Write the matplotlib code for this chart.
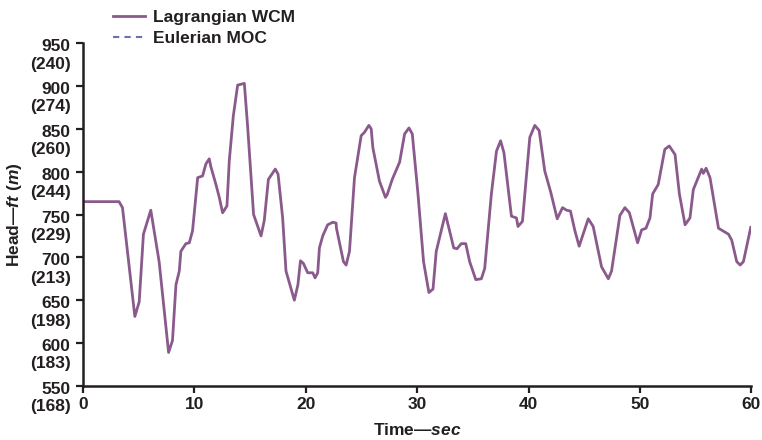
import matplotlib
matplotlib.use("Agg")
import matplotlib.pyplot as plt
import matplotlib.transforms as mtransforms
from matplotlib.lines import Line2D

plt.rcParams['font.family'] = ['Liberation Sans', 'DejaVu Sans']
plt.rcParams['font.weight'] = 'bold'
plt.rcParams['axes.labelweight'] = 'bold'
plt.rcParams['mathtext.fontset'] = 'custom'
plt.rcParams['mathtext.it'] = 'Liberation Sans:italic:bold'
plt.rcParams['mathtext.rm'] = 'Liberation Sans:bold'

# time (sec) and head (ft)
time_s = [0, 3.23, 3.54, 4.65, 5.04, 5.42, 6.08, 6.83, 7.68, 8.03, 8.34, 8.64, 8.78,
          9.23, 9.54, 9.83, 10.29, 10.73, 11.03, 11.33, 11.47, 11.93, 12.23, 12.53,
          12.92, 13.13, 13.49, 13.88, 14.48, 14.78, 15.31, 15.98, 16.27, 16.64, 17.26,
          17.51, 17.92, 18.22, 18.97, 19.29, 19.52, 19.78, 20.17, 20.62, 20.83, 21.07,
          21.22, 21.52, 21.96, 22.43, 22.72, 22.75, 23.38, 23.62, 23.92, 24.37, 24.97,
          25.27, 25.66, 25.87, 26.02, 26.61, 27.15, 27.30, 27.76, 28.42, 28.87, 29.26,
          29.56, 30.07, 30.57, 31.05, 31.42, 31.71, 32.53, 33.28, 33.57, 33.96, 34.36,
          34.71, 35.26, 35.76, 36.06, 36.66, 37.12, 37.49, 37.79, 38.46, 38.91, 39.05,
          39.45, 40.11, 40.56, 40.95, 41.45, 41.99, 42.57, 43.05, 43.41, 43.76, 44.16,
          44.54, 45.36, 45.80, 46.55, 47.16, 47.45, 48.20, 48.65, 49.05, 49.79, 50.15,
          50.54, 50.90, 51.14, 51.64, 52.23, 52.63, 53.15, 53.54, 54.05, 54.49, 54.79,
          55.54, 55.69, 55.94, 56.29, 57.05, 57.95, 58.24, 58.69, 59.00, 59.29, 59.95]
head_ft = [765, 765, 758, 631, 648, 727, 755, 695, 589, 603, 668, 684, 707,
           716, 717, 731, 793, 795, 809, 815, 806, 785, 770, 752,
           760, 813, 865, 901, 903, 852, 750, 725, 743, 791, 803,
           797, 746, 684, 650, 668, 696, 693, 682, 682, 676, 682,
           711, 725, 738, 741, 740, 734, 695, 691, 707, 793, 842,
           846, 854, 850, 828, 789, 770, 773, 791, 811, 844, 851,
           844, 774, 695, 659, 663, 707, 751, 711, 710, 716, 716,
           695, 674, 675, 687, 774, 824, 836, 822, 748, 746, 736,
           742, 840, 854, 848, 801, 776, 745, 758, 755, 754, 731,
           713, 745, 736, 689, 675, 684, 749, 758, 752, 717, 732,
           734, 746, 774, 785, 826, 830, 820, 774, 738, 746, 779,
           803, 798, 804, 793, 734, 727, 720, 695, 691, 695, 735]

y_ticks = [550, 600, 650, 700, 750, 800, 850, 900, 950]
y_metric = [168, 183, 198, 213, 229, 244, 260, 274, 240]
x_ticks = [0, 10, 20, 30, 40, 50, 60]

ink = '#231f20'
purple = '#8a5a8c'
blue = '#6b70b3'

fig = plt.figure(figsize=(7.62, 4.40), dpi=100)
ax = fig.add_axes([0.109, 0.123, 0.877, 0.779])

ax.plot(time_s, head_ft, color=purple, lw=2.0, solid_joinstyle='round')

ax.set_xlim(0, 60)
ax.set_ylim(550, 950)
ax.set_xticks(x_ticks)
ax.set_yticks(y_ticks)
for s in ['top', 'right']:
    ax.spines[s].set_visible(False)
for s in ['left', 'bottom']:
    ax.spines[s].set_linewidth(1.8)
    ax.spines[s].set_color(ink)
ax.tick_params(direction='out', length=5, width=1.6, colors=ink,
               labelsize=12.5, pad=3)
ax.tick_params(axis='y', pad=4)

ax.set_yticklabels([f'{a}\n({b})' for a, b in zip(y_ticks, y_metric)],
                   linespacing=1.2)
# first line of each label sits on its tick
shift = mtransforms.ScaledTranslation(0, -9.5 / 100, fig.dpi_scale_trans)
for lab in ax.get_yticklabels():
    lab.set_transform(lab.get_transform() + shift)

ax.set_xlabel(r'Time—$\it{sec}$', fontsize=12.5, color=ink, labelpad=7)
ax.set_ylabel(r'Head—$\it{ft}$ ($\it{m}$)', fontsize=12.5, color=ink, labelpad=4)

handles = [Line2D([], [], color=purple, lw=2.0),
           Line2D([], [], color=blue, lw=1.5, ls=(0, (3, 2.5)))]
fig.legend(handles, ['Lagrangian WCM', 'Eulerian MOC'], loc='upper left',
           bbox_to_anchor=(0.148, 0.978), frameon=False, fontsize=12.5,
           borderpad=0, borderaxespad=0,
           handlelength=1.85, handletextpad=0.45, labelspacing=0.35,
           labelcolor=ink)

fig.savefig('out.png', dpi=100)
